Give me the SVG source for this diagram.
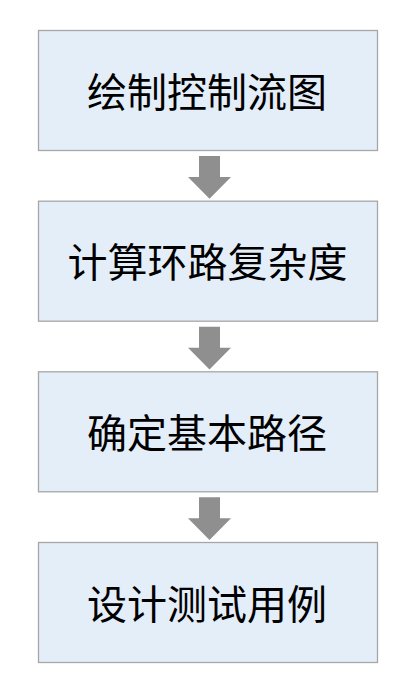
<svg xmlns="http://www.w3.org/2000/svg" width="412" height="696" viewBox="0 0 412 696">
<style>
.box{fill:#e4eef9;stroke:#a6a6a6;stroke-width:1.3}
.lbl{font-family:"Noto Sans CJK SC","Microsoft YaHei",sans-serif;font-size:40px;fill:#000;text-anchor:middle}
.arr{fill:#8f8f8f}
</style>
<rect width="412" height="696" fill="#fff"/>
<g id="node1"><rect class="box" x="38.5" y="30.5" width="339" height="120"/><text class="lbl" x="207" y="106.5">绘制控制流图</text></g>
<g id="node2"><rect class="box" x="38.5" y="201.2" width="339" height="120"/><text class="lbl" x="207.5" y="277.2">计算环路复杂度</text></g>
<g id="node3"><rect class="box" x="38.5" y="371.8" width="339" height="120"/><text class="lbl" x="207" y="447.8">确定基本路径</text></g>
<g id="node4"><rect class="box" x="38.5" y="542.5" width="339" height="120"/><text class="lbl" x="207" y="618.5">设计测试用例</text></g>
<g id="connectors">
<polygon class="arr" points="199,156 220,156 220,177 231,177 209.5,198.7 188,177 199,177"/>
<polygon class="arr" points="199,326.7 220,326.7 220,347.7 231,347.7 209.5,369.4 188,347.7 199,347.7"/>
<polygon class="arr" points="199,497.3 220,497.3 220,518.3 231,518.3 209.5,540 188,518.3 199,518.3"/>
</g>
</svg>
